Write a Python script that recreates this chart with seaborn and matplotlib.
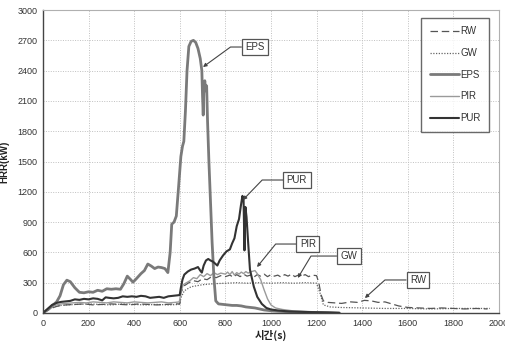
import matplotlib
matplotlib.use("Agg")
import matplotlib.pyplot as plt
import seaborn as sns
import pandas as pd

# ---------------- data ----------------
eps_t = [0, 20, 40, 60, 75, 90, 105, 120, 140, 160, 180, 200, 220, 240, 260, 280, 300, 320, 340, 355,
         370, 385, 395, 410, 430, 445, 460, 475, 490, 505, 520, 535, 548, 558, 565, 575, 585, 595, 605,
         612, 618, 625, 632, 640, 650, 660, 670, 680, 690, 697, 700, 703, 706, 710, 714, 718, 722, 728,
         735, 742, 750, 758, 770, 790, 810, 830, 850, 870, 890, 910, 930, 950, 970, 990, 1010, 1050,
         1100, 1200, 1300]
eps_v = [0, 30, 70, 110, 170, 280, 325, 310, 250, 205, 200, 210, 205, 225, 215, 240, 235, 240, 235, 290,
         365, 330, 305, 340, 390, 420, 485, 465, 440, 455, 450, 440, 400, 600, 880, 900, 960, 1250, 1550,
         1650, 1700, 2000, 2400, 2640, 2690, 2700, 2680, 2620, 2520, 2400, 2150, 1960, 2250, 2300, 2200,
         2250, 1900, 1500, 1100, 700, 350, 120, 90, 85, 80, 75, 75, 70, 60, 55, 50, 40, 30, 25, 20, 15,
         10, 5, 0]

pur_t = [0, 20, 40, 60, 80, 100, 120, 140, 160, 180, 200, 220, 240, 260, 275, 290, 310, 330, 350, 370,
         390, 410, 430, 450, 470, 490, 510, 530, 550, 570, 590, 600, 605, 612, 620, 635, 650, 665, 680,
         690, 697, 705, 715, 725, 735, 745, 755, 765, 775, 790, 805, 820, 830, 840, 850, 860, 868, 875,
         880, 884, 888, 893, 900, 908, 925, 940, 960, 980, 1000, 1030, 1080, 1150, 1250, 1300]
pur_v = [0, 40, 80, 100, 110, 115, 120, 135, 130, 140, 135, 145, 140, 125, 155, 150, 145, 150, 165, 160,
         165, 160, 170, 165, 150, 155, 160, 150, 165, 170, 175, 178, 250, 330, 380, 410, 430, 440, 455,
         420, 400, 470, 520, 535, 520, 510, 490, 470, 520, 570, 610, 630, 690, 740, 860, 930, 1060, 1160,
         1120, 620, 1050, 950, 700, 430, 260, 160, 90, 50, 35, 25, 15, 10, 5, 0]

pir_t = [0, 20, 40, 60, 80, 100, 130, 160, 190, 220, 250, 280, 310, 340, 370, 400, 430, 460, 490, 520,
         550, 580, 598, 605, 615, 630, 645, 660, 675, 690, 705, 720, 735, 750, 765, 780, 800, 810, 820,
         830, 840, 850, 860, 870, 880, 890, 900, 915, 930, 940, 955, 970, 985, 1000, 1020, 1050, 1100,
         1200, 1300]
pir_v = [0, 30, 60, 80, 90, 95, 100, 105, 100, 110, 105, 100, 110, 105, 100, 110, 105, 100, 105, 110,
         100, 105, 110, 200, 280, 300, 320, 350, 340, 380, 360, 390, 370, 400, 380, 395, 385, 405, 380,
         410, 375, 400, 385, 405, 390, 410, 395, 410, 420, 390, 330, 230, 140, 80, 50, 35, 20,
         10, 5]

rw_t = [0, 20, 40, 60, 80, 100, 140, 180, 220, 260, 300, 340, 380, 420, 460, 500, 540, 580, 600, 605,
        620, 640, 660, 680, 700, 720, 740, 760, 780, 800, 820, 835, 850, 865, 880, 895, 910, 925, 940,
        955, 970, 985, 1000, 1015, 1030, 1045, 1060, 1075, 1090, 1105, 1120, 1135, 1150, 1165, 1180,
        1200, 1210, 1220, 1230, 1250, 1280, 1310, 1350, 1380, 1410, 1440, 1470,
        1500, 1530, 1560, 1600, 1650, 1700, 1750, 1800, 1850, 1900, 1950]
rw_v = [0, 25, 50, 65, 75, 80, 85, 90, 80, 85, 90, 85, 80, 90, 85, 80, 85, 90, 90, 200,
        270, 300, 320, 310, 340, 330, 360, 350, 370, 360, 375, 355, 380, 360, 385, 365, 375, 355, 380,
        365, 385, 360, 380, 365, 375, 355, 380, 365, 385, 360, 375, 365, 380, 360, 375,
        370, 300, 180, 120, 105, 100, 95, 110, 105, 125, 120, 105,
        110, 90, 70, 55, 50, 45, 50, 45, 40, 45, 40]

gw_t = [0, 30, 60, 100, 150, 200, 250, 300, 350, 400, 450, 500, 550, 600, 605, 620, 650, 700, 750, 800,
        850, 900, 950, 1000, 1050, 1100, 1150, 1200, 1215, 1230, 1260, 1300, 1400, 1500, 1600, 1700,
        1800, 1900, 1960]
gw_v = [0, 40, 70, 80, 85, 90, 85, 80, 90, 85, 80, 85, 80, 85, 150, 220, 260, 280, 290, 295,
        300, 295, 300, 295, 300, 295, 300, 295, 200, 80, 60, 55, 50, 45, 45, 40, 45, 45, 45]

series_names = ["RW", "GW", "EPS", "PIR", "PUR"]
x_ticks = list(range(0, 2001, 200))
y_ticks = list(range(0, 3001, 300))

# ---------------- figure ----------------
sns.set_style("white")
plt.rcParams['font.family'] = ['Liberation Sans', 'Noto Sans CJK KR', 'DejaVu Sans']

fig = plt.figure(figsize=(5.05, 3.47), dpi=100)
ax = fig.add_axes([0.085, 0.098, 0.903, 0.873])

styles = {
    "RW":  dict(color="#555555", lw=0.9, ls=(0, (6, 3))),
    "GW":  dict(color="#666666", lw=0.9, ls=(0, (1, 1.2))),
    "EPS": dict(color="#7a7a7a", lw=2.0, ls="-"),
    "PIR": dict(color="#9a9a9a", lw=1.0, ls="-"),
    "PUR": dict(color="#333333", lw=1.5, ls="-"),
}
data = {
    "RW": (rw_t, rw_v), "GW": (gw_t, gw_v), "EPS": (eps_t, eps_v),
    "PIR": (pir_t, pir_v), "PUR": (pur_t, pur_v),
}
order = ["GW", "RW", "PIR", "EPS", "PUR"]
lines = {}
for name in order:
    t, v = data[name]
    df = pd.DataFrame({"t": t, "v": v})
    st = styles[name]
    sns.lineplot(data=df, x="t", y="v", ax=ax, color=st["color"], linewidth=st["lw"],
                 linestyle=st["ls"], label=name, legend=False)
    lines[name] = ax.get_lines()[-1]

ax.set_xlim(0, 2000)
ax.set_ylim(0, 3000)
ax.set_xticks(x_ticks)
ax.set_yticks(y_ticks)
ax.tick_params(labelsize=6.5, colors="#333333", length=0, pad=4)
ax.grid(True, color="#c0c0c0", linestyle=(0, (1, 1.5)), linewidth=0.7)
ax.set_axisbelow(True)
for s in ["left", "bottom"]:
    ax.spines[s].set_color("#444444")
    ax.spines[s].set_linewidth(1.0)
for s in ["top", "right"]:
    ax.spines[s].set_color("#b0b0b0")
    ax.spines[s].set_linewidth(0.8)

ax.set_xlabel("시간(s)", fontsize=7.5, fontweight="bold", color="#222222",
              family=['Noto Sans CJK KR', 'DejaVu Sans'], labelpad=2)
ax.set_ylabel("HRR(kW)", fontsize=7, fontweight="bold", color="#222222", labelpad=6)

leg = ax.legend([lines[n] for n in series_names], series_names, loc="upper right",
                bbox_to_anchor=(0.985, 0.985), fontsize=7, frameon=True, fancybox=False,
                handlelength=3.0, handletextpad=0.1, labelspacing=1.2, borderpad=0.9,
                borderaxespad=0.3)
leg.get_frame().set_edgecolor("#444444")
leg.get_frame().set_linewidth(1.0)
for txt in leg.get_texts():
    txt.set_color("#333333")

def label_box(text, xy, xytext, angB):
    ax.annotate(text, xy=xy, xytext=xytext, fontsize=7, color="#333333",
                ha="center", va="center",
                bbox=dict(boxstyle="square,pad=0.35", fc="white", ec="#555555", lw=0.9),
                arrowprops=dict(arrowstyle="-|>,head_length=0.3,head_width=0.15", color="#444444",
                                lw=0.8, connectionstyle=f"angle,angleA=0,angleB={angB},rad=0",
                                shrinkA=0, shrinkB=0))

label_box("EPS", (702, 2436), (930, 2634), 36)
label_box("PUR", (877, 1119), (1114, 1317), 46)
label_box("PIR", (939, 455), (1162, 683), 51)
label_box("GW", (1118, 347), (1342, 564), 59)
label_box("RW", (1412, 148), (1645, 327), 42)

fig.savefig("out.png", dpi=100)
